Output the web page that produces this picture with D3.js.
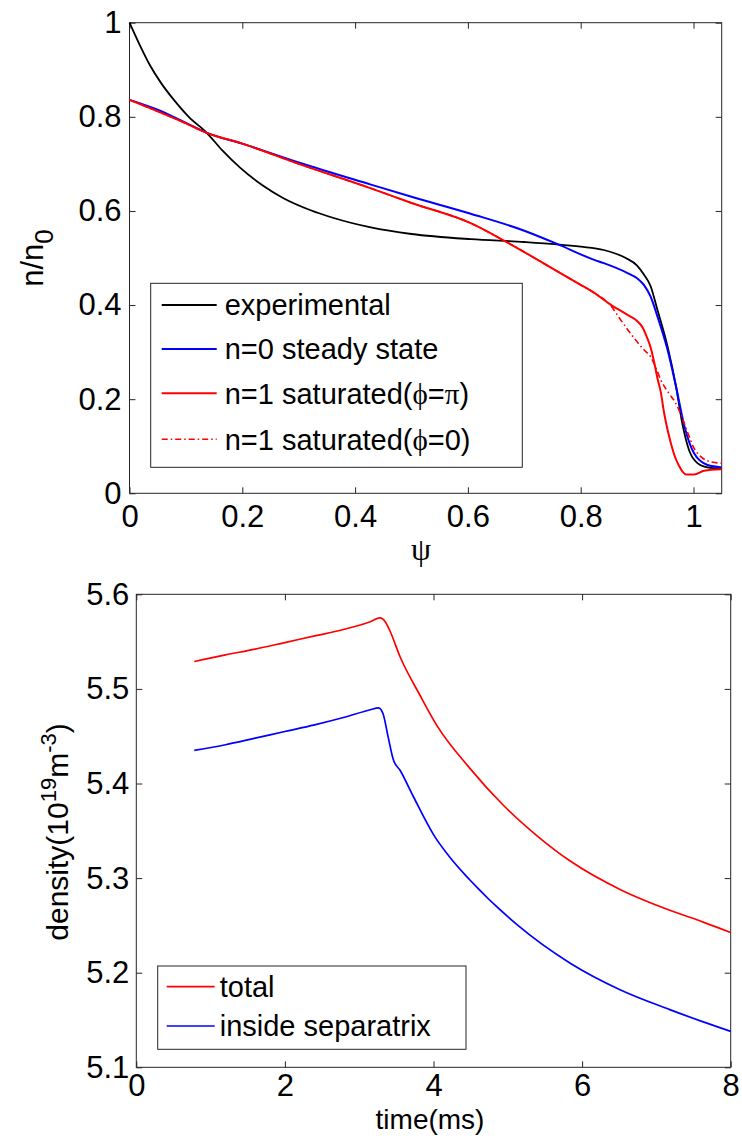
<!DOCTYPE html>
<html>
<head>
<meta charset="utf-8">
<script src="https://cdn.jsdelivr.net/npm/d3@7"></script>
<style>
  body { margin: 0; background: #fff; }
  text { font-family: "Liberation Sans", Arial, sans-serif; fill: #000; }
  .sym { font-family: "Liberation Serif", "DejaVu Serif", serif; }
</style>
</head>
<body>
<svg id="chart" width="742" height="1138"></svg>
<script>
// ---- top panel: density profiles vs psi ----
var expPsi = [0, 0.018, 0.036, 0.057, 0.078, 0.105, 0.137, 0.165, 0.196, 0.235, 0.273, 0.32, 0.362, 0.428, 0.5, 0.605, 0.7, 0.758, 0.8, 0.841, 0.865, 0.88, 0.9, 0.912, 0.924, 0.936, 0.954, 0.969, 0.98, 0.992, 1.007, 1.025, 1.05];
var expN   = [1.0, 0.953, 0.91, 0.87, 0.837, 0.8, 0.766, 0.728, 0.692, 0.655, 0.627, 0.602, 0.585, 0.565, 0.551, 0.54, 0.534, 0.529, 0.524, 0.517, 0.508, 0.5, 0.484, 0.465, 0.44, 0.39, 0.312, 0.227, 0.149, 0.092, 0.064, 0.055, 0.052];

var steadyPsi = [0, 0.05, 0.1, 0.137, 0.2, 0.3, 0.428, 0.5, 0.605, 0.7, 0.758, 0.824, 0.841, 0.883, 0.9, 0.912, 0.924, 0.936, 0.954, 0.969, 0.984, 1.001, 1.025, 1.05];
var steadyN   = [0.836, 0.815, 0.787, 0.766, 0.743, 0.703, 0.656, 0.63, 0.594, 0.558, 0.53, 0.496, 0.489, 0.468, 0.457, 0.443, 0.418, 0.376, 0.305, 0.227, 0.142, 0.085, 0.06, 0.055];

var satPiPsi = [0, 0.1, 0.137, 0.2, 0.3, 0.428, 0.5, 0.605, 0.664, 0.758, 0.8, 0.824, 0.853, 0.883, 0.9, 0.91, 0.918, 0.924, 0.93, 0.936, 0.942, 0.948, 0.954, 0.96, 0.968, 0.975, 0.982, 0.987, 1.001, 1.019, 1.05];
var satPiN   = [0.836, 0.786, 0.766, 0.743, 0.7, 0.648, 0.617, 0.574, 0.537, 0.472, 0.443, 0.426, 0.401, 0.379, 0.366, 0.352, 0.33, 0.31, 0.28, 0.245, 0.215, 0.17, 0.135, 0.106, 0.075, 0.057, 0.044, 0.04, 0.04, 0.048, 0.051];

var sat0Psi = [0, 0.1, 0.137, 0.2, 0.3, 0.428, 0.5, 0.605, 0.664, 0.758, 0.8, 0.824, 0.853, 0.87, 0.885, 0.9, 0.912, 0.924, 0.935, 0.942, 0.955, 0.971, 0.98, 0.99, 1.0, 1.013, 1.03, 1.05];
var sat0N   = [0.836, 0.786, 0.766, 0.743, 0.7, 0.648, 0.617, 0.574, 0.537, 0.472, 0.443, 0.426, 0.399, 0.37, 0.345, 0.322, 0.305, 0.29, 0.262, 0.241, 0.215, 0.186, 0.16, 0.128, 0.098, 0.078, 0.067, 0.064];

var psiTicks = [0, 0.2, 0.4, 0.6, 0.8, 1];
var nTicks = [0, 0.2, 0.4, 0.6, 0.8, 1];

// ---- bottom panel: density vs time ----
var totalTime = [0.78, 1.2, 1.6, 2.0, 2.4, 2.8, 3.15, 3.28, 3.35, 3.41, 3.55, 3.82, 4.04, 4.49, 4.94, 5.39, 5.84, 6.51, 7.18, 7.63, 8.0];
var totalDens = [5.529, 5.536, 5.542, 5.549, 5.556, 5.563, 5.571, 5.575, 5.571, 5.562, 5.534, 5.493, 5.462, 5.416, 5.377, 5.345, 5.318, 5.288, 5.266, 5.2535, 5.2425];

var insideTime = [0.78, 1.2, 1.6, 2.0, 2.4, 2.8, 3.15, 3.26, 3.32, 3.39, 3.46, 3.55, 3.73, 4.0, 4.22, 4.49, 5.12, 5.84, 6.51, 7.18, 7.63, 8.0];
var insideDens = [5.435, 5.441, 5.448, 5.455, 5.462, 5.47, 5.478, 5.48, 5.474, 5.449, 5.425, 5.414, 5.386, 5.346, 5.322, 5.298, 5.251, 5.21, 5.182, 5.161, 5.148, 5.138];

var timeTicks = [0, 2, 4, 6, 8];
var densTicks = [5.1, 5.2, 5.3, 5.4, 5.5, 5.6];

var svg = d3.select("#chart");
var axisColor = "#262626";

function zip(xs, ys) {
    return xs.map(function (x, i) { return [x, ys[i]]; });
}

function drawFrame(g, x, y, xTicks, yTicks, xFmt, yFmt, xPad, yPad) {
    var w = x.range()[1], h = y.range()[0];
    var tick = 6;

    g.append("g").attr("transform", "translate(0," + h + ")")
        .call(d3.axisBottom(x).tickValues(xTicks).tickSizeInner(-tick).tickSizeOuter(0).tickPadding(xPad).tickFormat(xFmt));
    g.append("g")
        .call(d3.axisLeft(y).tickValues(yTicks).tickSizeInner(-tick).tickSizeOuter(0).tickPadding(yPad).tickFormat(yFmt));
    g.append("g")
        .call(d3.axisTop(x).tickValues(xTicks).tickSizeInner(-tick).tickSizeOuter(0).tickFormat(""));
    g.append("g").attr("transform", "translate(" + w + ",0)")
        .call(d3.axisRight(y).tickValues(yTicks).tickSizeInner(-tick).tickSizeOuter(0).tickFormat(""));

    g.selectAll(".domain").remove();
    g.selectAll(".tick line").attr("stroke", axisColor);
    g.selectAll(".tick text").style("font-family", '"Liberation Sans", Arial, sans-serif').style("font-size", "31px").attr("fill", "#000");

    g.append("rect")
        .attr("width", w).attr("height", h)
        .attr("fill", "none").attr("stroke", axisColor).attr("stroke-width", 1);
}

// ================= top panel =================
var topLeft = 129.5, topTop = 22.7, topW = 592.2, topH = 470.6;
var gTop = svg.append("g").attr("transform", "translate(" + topLeft + "," + topTop + ")");

var xPsi = d3.scaleLinear().domain([0, 1.05]).range([0, topW]);
var yN = d3.scaleLinear().domain([0, 1]).range([topH, 0]);

drawFrame(gTop, xPsi, yN, psiTicks, nTicks, d3.format("~g"), d3.format("~g"), 12, 8);

var lineTop = d3.line()
    .x(function (d) { return xPsi(d[0]); })
    .y(function (d) { return yN(d[1]); })
    .curve(d3.curveMonotoneX);

var topSeries = [
    { name: "experimental", data: zip(expPsi, expN), color: "#000000", dash: null, width: 1.8 },
    { name: "n=0 steady state", data: zip(steadyPsi, steadyN), color: "#0000ff", dash: null, width: 2 },
    { name: "sat_pi", data: zip(satPiPsi, satPiN), color: "#ff0000", dash: null, width: 2 },
    { name: "sat_0", data: zip(sat0Psi, sat0N), color: "#ff0000", dash: "6,3,1.5,3", width: 1.6 }
];

gTop.selectAll(".curve")
    .data(topSeries)
    .enter()
    .append("path")
    .attr("class", "curve")
    .attr("d", function (d) { return lineTop(d.data); })
    .attr("fill", "none")
    .attr("stroke", function (d) { return d.color; })
    .attr("stroke-width", function (d) { return d.width; })
    .attr("stroke-dasharray", function (d) { return d.dash; });

// axis labels
svg.append("text")
    .attr("class", "sym")
    .attr("x", 421).attr("y", 560)
    .attr("text-anchor", "middle")
    .style("font-size", "32px")
    .text("\u03c8");

var yLab1 = svg.append("text")
    .attr("transform", "translate(43,258) rotate(-90)")
    .attr("text-anchor", "middle")
    .style("font-size", "31px");
yLab1.append("tspan").text("n/n");
yLab1.append("tspan").attr("dy", 10).style("font-size", "26px").text("0");

// legend (top)
var legTop = svg.append("g").attr("transform", "translate(150.7,283.3)");
legTop.append("rect")
    .attr("width", 371.6).attr("height", 184)
    .attr("fill", "#fff").attr("stroke", axisColor).attr("stroke-width", 1);

var legRowsY = [21.7, 65.7, 110, 156];
topSeries.forEach(function (s, i) {
    var row = legTop.append("g").attr("transform", "translate(0," + legRowsY[i] + ")");
    row.append("line")
        .attr("x1", 11).attr("x2", 66)
        .attr("stroke", s.color).attr("stroke-width", s.width)
        .attr("stroke-dasharray", s.dash);
    var t = row.append("text")
        .attr("x", 74).attr("dy", "0.36em")
        .style("font-size", "29px");
    if (i < 2) {
        t.text(s.name);
    } else {
        t.append("tspan").text("n=1 saturated(");
        t.append("tspan").attr("class", "sym").text("\u03d5");
        t.append("tspan").text("=");
        if (i === 2) {
            t.append("tspan").attr("class", "sym").text("\u03c0");
        } else {
            t.append("tspan").text("0");
        }
        t.append("tspan").text(")");
    }
});

// ================= bottom panel =================
var botLeft = 136.3, botTop = 594.3, botW = 594.4, botH = 473;
var gBot = svg.append("g").attr("transform", "translate(" + botLeft + "," + botTop + ")");

var xT = d3.scaleLinear().domain([0, 8]).range([0, botW]);
var yD = d3.scaleLinear().domain([5.1, 5.6]).range([botH, 0]);

drawFrame(gBot, xT, yD, timeTicks, densTicks, d3.format("d"), d3.format(".1f"), 7, 7);

var lineBot = d3.line()
    .x(function (d) { return xT(d[0]); })
    .y(function (d) { return yD(d[1]); })
    .curve(d3.curveMonotoneX);

var botSeries = [
    { name: "total", data: zip(totalTime, totalDens), color: "#ff0000" },
    { name: "inside separatrix", data: zip(insideTime, insideDens), color: "#0000ff" }
];

gBot.selectAll(".curve")
    .data(botSeries)
    .enter()
    .append("path")
    .attr("class", "curve")
    .attr("d", function (d) { return lineBot(d.data); })
    .attr("fill", "none")
    .attr("stroke", function (d) { return d.color; })
    .attr("stroke-width", 1.7);

svg.append("text")
    .attr("x", 430).attr("y", 1129)
    .attr("text-anchor", "middle")
    .style("font-size", "28px")
    .text("time(ms)");

var yLab2 = svg.append("text")
    .attr("transform", "translate(68,832) rotate(-90)")
    .attr("text-anchor", "middle")
    .style("font-size", "30px");
yLab2.append("tspan").text("density(10");
yLab2.append("tspan").attr("dy", -12).style("font-size", "22px").text("19");
yLab2.append("tspan").attr("dy", 12).text("m");
yLab2.append("tspan").attr("dy", -12).style("font-size", "22px").text("-3");
yLab2.append("tspan").attr("dy", 12).text(")");

// legend (bottom)
var legBot = svg.append("g").attr("transform", "translate(157.7,966)");
legBot.append("rect")
    .attr("width", 308.3).attr("height", 83.3)
    .attr("fill", "#fff").attr("stroke", axisColor).attr("stroke-width", 1);

var legBotY = [20.7, 60];
botSeries.forEach(function (s, i) {
    var row = legBot.append("g").attr("transform", "translate(0," + legBotY[i] + ")");
    row.append("line")
        .attr("x1", 9).attr("x2", 57)
        .attr("stroke", s.color).attr("stroke-width", 1.7);
    row.append("text")
        .attr("x", 62).attr("dy", "0.36em")
        .style("font-size", "29px")
        .text(s.name);
});
</script>
</body>
</html>
